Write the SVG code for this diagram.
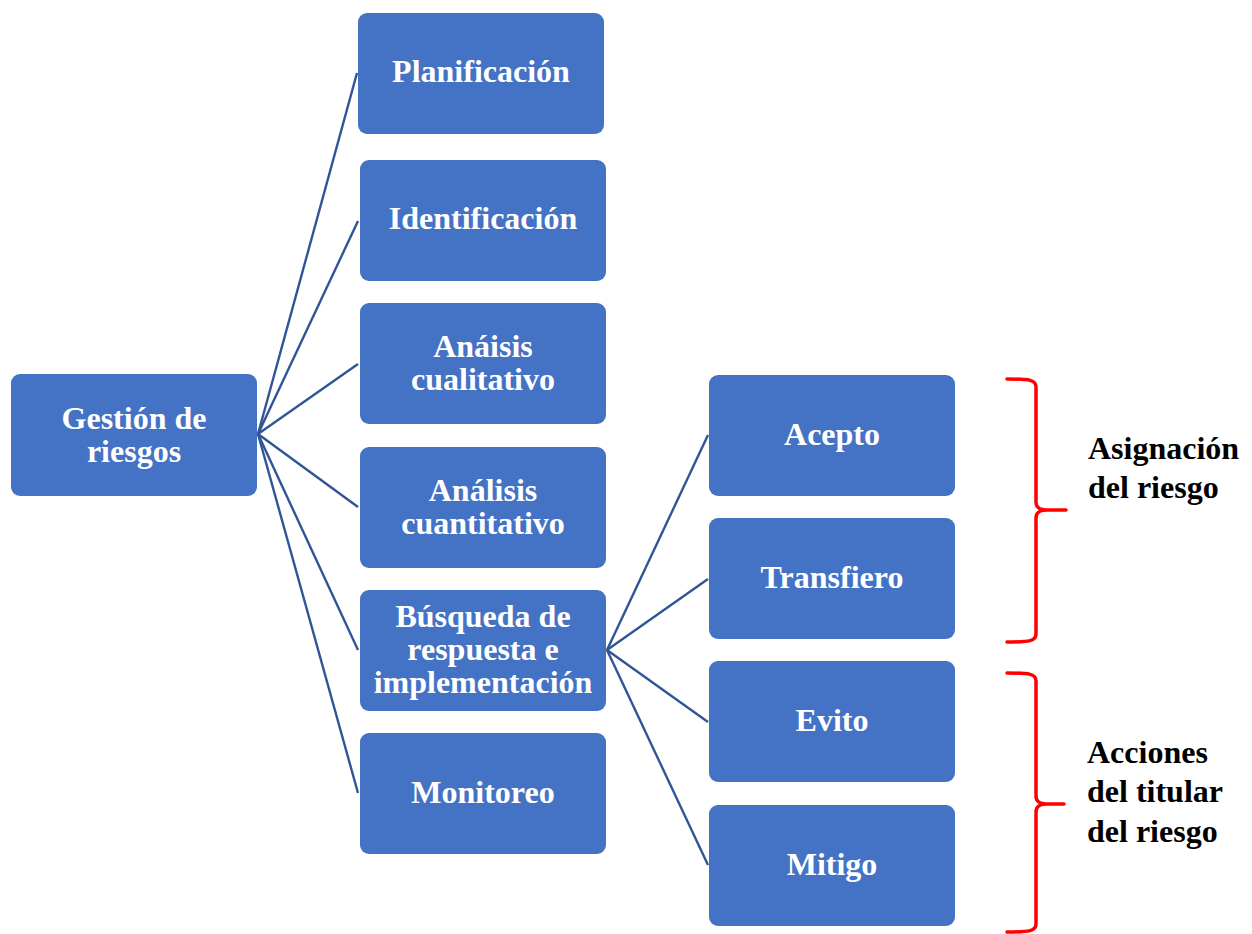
<svg xmlns="http://www.w3.org/2000/svg" width="1252" height="934" viewBox="0 0 1252 934">
  <style>
    .box { fill: #4472C4; }
    .lbl { fill: #FFFFFF; font-family: "Liberation Serif", "Times New Roman", serif; font-weight: bold; font-size: 32px; text-anchor: middle; }
    .side { fill: #000000; font-family: "Liberation Serif", "Times New Roman", serif; font-weight: bold; font-size: 32px; }
    .link { stroke: #2F5597; stroke-width: 2.4; fill: none; }
    .brace { stroke: #FF0000; stroke-width: 3.5; fill: none; stroke-linecap: round; stroke-linejoin: round; }
  </style>

  <!-- connectors -->
  <g id="connectors">
    <line class="link" x1="258" y1="434" x2="357" y2="73"/>
    <line class="link" x1="258" y1="434" x2="358" y2="221"/>
    <line class="link" x1="258" y1="434" x2="358" y2="364"/>
    <line class="link" x1="258" y1="434" x2="358" y2="507"/>
    <line class="link" x1="258" y1="434" x2="358" y2="650"/>
    <line class="link" x1="258" y1="434" x2="358" y2="793"/>
    <line class="link" x1="607" y1="650" x2="708" y2="435"/>
    <line class="link" x1="607" y1="650" x2="708" y2="579"/>
    <line class="link" x1="607" y1="650" x2="708" y2="722"/>
    <line class="link" x1="607" y1="650" x2="708" y2="865"/>
  </g>

  <!-- root -->
  <g id="gestion">
    <rect class="box" x="11" y="374" width="246" height="122" rx="9"/>
    <text class="lbl" x="134" y="429">Gestión de</text>
    <text class="lbl" x="134" y="462">riesgos</text>
  </g>

  <!-- process stages -->
  <g id="planificacion">
    <rect class="box" x="358" y="13" width="246" height="121" rx="9"/>
    <text class="lbl" x="481" y="82">Planificación</text>
  </g>
  <g id="identificacion">
    <rect class="box" x="360" y="160" width="246" height="121" rx="9"/>
    <text class="lbl" x="483" y="229">Identificación</text>
  </g>
  <g id="analisis-cualitativo">
    <rect class="box" x="360" y="303" width="246" height="121" rx="9"/>
    <text class="lbl" x="483" y="357">Anáisis</text>
    <text class="lbl" x="483" y="390">cualitativo</text>
  </g>
  <g id="analisis-cuantitativo">
    <rect class="box" x="360" y="447" width="246" height="121" rx="9"/>
    <text class="lbl" x="483" y="501">Análisis</text>
    <text class="lbl" x="483" y="534">cuantitativo</text>
  </g>
  <g id="busqueda">
    <rect class="box" x="360" y="590" width="246" height="121" rx="9"/>
    <text class="lbl" x="483" y="627">Búsqueda de</text>
    <text class="lbl" x="483" y="660">respuesta e</text>
    <text class="lbl" x="483" y="693">implementación</text>
  </g>
  <g id="monitoreo">
    <rect class="box" x="360" y="733" width="246" height="121" rx="9"/>
    <text class="lbl" x="483" y="803">Monitoreo</text>
  </g>

  <!-- responses -->
  <g id="acepto">
    <rect class="box" x="709" y="375" width="246" height="121" rx="9"/>
    <text class="lbl" x="832" y="445">Acepto</text>
  </g>
  <g id="transfiero">
    <rect class="box" x="709" y="518" width="246" height="121" rx="9"/>
    <text class="lbl" x="832" y="588">Transfiero</text>
  </g>
  <g id="evito">
    <rect class="box" x="709" y="661" width="246" height="121" rx="9"/>
    <text class="lbl" x="832" y="731">Evito</text>
  </g>
  <g id="mitigo">
    <rect class="box" x="709" y="805" width="246" height="121" rx="9"/>
    <text class="lbl" x="832" y="875">Mitigo</text>
  </g>

  <!-- grouping braces -->
  <g id="asignacion">
    <path class="brace" d="M1007,379 C1030,379 1036,380 1036,387 L1036,502 C1036,508 1040,510 1048,510 L1066,510 M1048,510 C1040,510 1036,512 1036,518 L1036,634 C1036,641 1030,642 1007,642"/>
    <text class="side" x="1088" y="459">Asignación</text>
    <text class="side" x="1088" y="498">del riesgo</text>
  </g>
  <g id="acciones">
    <path class="brace" d="M1007,673 C1030,673 1036,674 1036,681 L1036,796 C1036,802 1040,804 1048,804 L1064,804 M1048,804 C1040,804 1036,806 1036,812 L1036,924 C1036,931 1030,932 1007,932"/>
    <text class="side" x="1087" y="763">Acciones</text>
    <text class="side" x="1087" y="802">del titular</text>
    <text class="side" x="1087" y="842">del riesgo</text>
  </g>
</svg>
